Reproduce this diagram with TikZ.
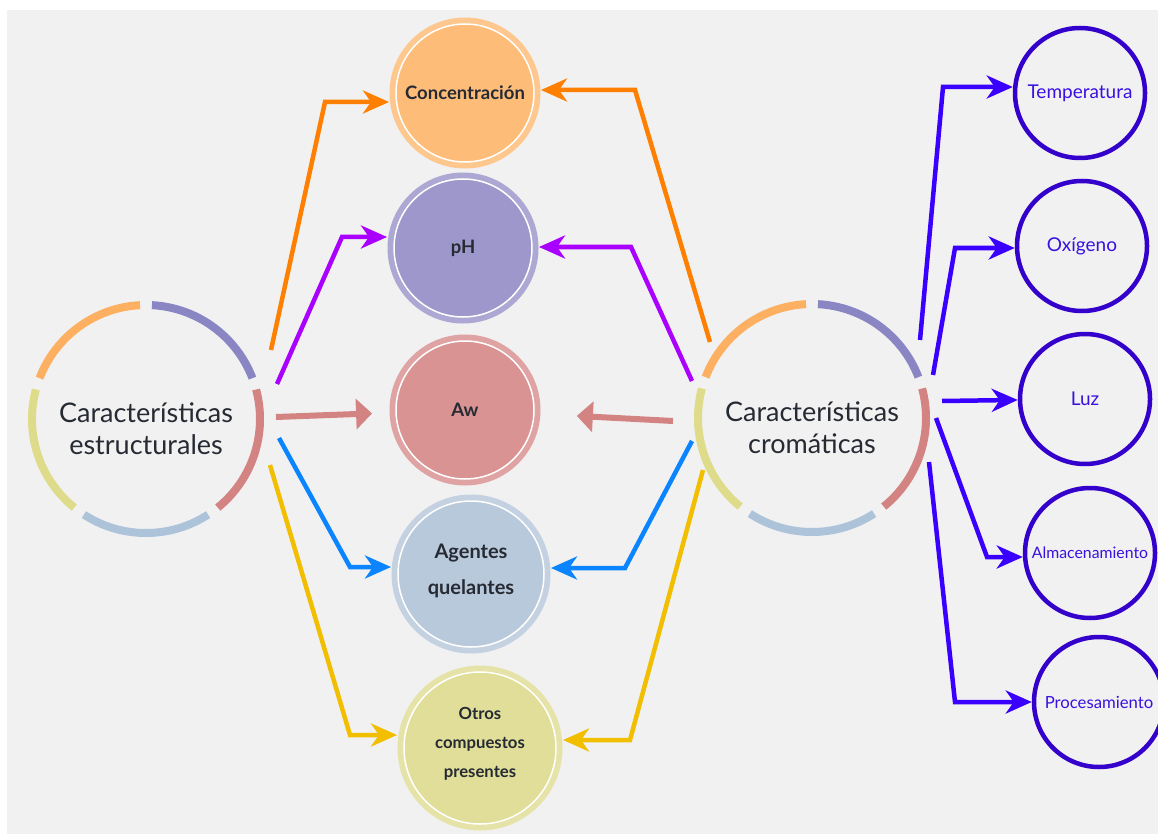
\documentclass[tikz,border=0pt]{standalone}
\usepackage{fontspec}
\setmainfont{Lato}
\usetikzlibrary{arrows.meta, calc, positioning}

\definecolor{panel}{HTML}{F1F1F1}
\definecolor{ink}{HTML}{262A33}
\definecolor{ringorange}{HTML}{FDB062}
\definecolor{ringpurple}{HTML}{8A86C4}
\definecolor{ringred}{HTML}{D48383}
\definecolor{ringblue}{HTML}{ADC3DA}
\definecolor{ringyellow}{HTML}{DEDC8A}
\definecolor{cconc}{HTML}{FDBD79}
\definecolor{cph}{HTML}{9D97CB}
\definecolor{caw}{HTML}{D99393}
\definecolor{cagent}{HTML}{B9C9DC}
\definecolor{cotros}{HTML}{E0DE98}
\definecolor{arrorange}{HTML}{FF8000}
\definecolor{arrpurple}{HTML}{AA00FF}
\definecolor{arrblue}{HTML}{0A84FF}
\definecolor{arryellow}{HTML}{F2BE00}
\definecolor{arrred}{HTML}{D48383}
\definecolor{factorline}{HTML}{3300CC}
\definecolor{factorarr}{HTML}{3A00FF}
\definecolor{factortext}{HTML}{3A10E0}

\tikzset{
  hub/.style={circle, minimum size=228pt, inner sep=0pt},
  hubtext/.style={align=center, text=ink, font=\fontsize{27}{32}\selectfont},
  bubble/.style={circle, fill=#1, draw=white, line width=1.5pt, inner sep=0pt,
    outer sep=7pt, minimum size=138pt, align=center, text=ink,
    font=\bfseries\fontsize{18.5}{29}\selectfont,
    preaction={draw=#1!85!white, line width=13pt}},
  factor/.style={circle, draw=factorline, line width=4.5pt, minimum size=130pt,
    inner sep=0pt, text=factortext, font=\fontsize{19}{22}\selectfont},
  conn/.style={#1, line width=4.5pt, -{Stealth[length=26pt, width=23pt, inset=8pt]}},
  awconn/.style={arrred, line width=6pt, -{Triangle[length=16pt, width=30pt]}}
}

\begin{document}
\begin{tikzpicture}[x=1pt, y=1pt]
  \fill[white] (0,0) rectangle (1158,-834);
  \clip (0,0) rectangle (1158,-834);
  \fill[panel] (7,-10) rectangle (1158,-834);

  % the two main circles
  \node[hub] (struct) at (146,-419) {};
  \node[hub] (crom) at (812,-418) {};
  \node[hubtext] (struct-t) at ([yshift=-10pt]struct) {Características\\estructurales};
  \node[hubtext] (crom-t) at ([yshift=-10pt]crom) {Características\\cromáticas};
  \foreach \n in {struct, crom}
    \foreach \c/\a in {ringpurple/54, ringorange/126, ringyellow/198, ringblue/270, ringred/342}
      \draw[\c, line width=8pt] ($(\n)+(\a-33:114)$) arc[start angle=\a-33, end angle=\a+33, radius=114];

  % middle column
  \node[bubble=cconc] (conc) at (465,-93) {Concentración};
  \node[bubble=cph] (ph) at (463,-248) {pH};
  \node[bubble=caw] (aw) at (465,-410) {Aw};
  \node[bubble=cagent, minimum size=146pt, font=\bfseries\fontsize{20}{36}\selectfont] (agent) at (471,-574) {Agentes\\quelantes\\[-26pt]};
  \node[bubble=cotros, minimum size=152pt, font=\bfseries\fontsize{16.7}{29}\selectfont] (otros) at (480,-748) {Otros\\compuestos\\presentes\\[-17pt]};

  % right column
  \node[factor] (temp) at (1080,-93) {Temperatura};
  \node[factor] (oxi) at (1082,-246) {Oxígeno};
  \node[factor] (luz) at (1085,-399) {Luz};
  \node[factor, font=\fontsize{15.8}{18}\selectfont] (alm) at (1090,-553) {Almacenamiento};
  \node[factor, font=\fontsize{16.7}{18}\selectfont] (proc) at (1099,-702) {Procesamiento};

  % free ends and bends
  \coordinate (s1) at (271,-350); \coordinate (e1) at (325,-102);
  \coordinate (s2) at (277,-384); \coordinate (e2) at (342,-237);
  \coordinate (s3) at (276,-417);
  \coordinate (s4) at (279,-438); \coordinate (e4) at (350,-567);
  \coordinate (s5) at (270,-465); \coordinate (e5) at (350,-735);
  \coordinate (r1) at (710,-342); \coordinate (f1) at (635,-90);
  \coordinate (r2) at (692,-381); \coordinate (f2) at (631,-247);
  \coordinate (r3) at (673,-421);
  \coordinate (r4) at (692,-441); \coordinate (f4) at (625,-568);
  \coordinate (r5) at (703,-470); \coordinate (f5) at (630,-740);
  \coordinate (t1) at (920,-340); \coordinate (g1) at (943,-87);
  \coordinate (t2) at (933,-375); \coordinate (g2) at (955,-248);
  \coordinate (t3) at (942,-401);
  \coordinate (t4) at (936,-418); \coordinate (g4) at (987,-557);
  \coordinate (t5) at (929,-462); \coordinate (g5) at (955,-702);

  \draw[conn=arrorange] (s1) -- (e1) -- (e1 -| conc.west);
  \draw[conn=arrpurple] (s2) -- (e2) -- (e2 -| ph.west);
  \draw[awconn, shorten >=17pt] (s3) -- (aw);
  \draw[conn=arrblue] (s4) -- (e4) -- (e4 -| agent.west);
  \draw[conn=arryellow] (s5) -- (e5) -- (e5 -| otros.west);

  \draw[conn=arrorange] (r1) -- (f1) -- (f1 -| conc.east);
  \draw[conn=arrpurple] (r2) -- (f2) -- (f2 -| ph.east);
  \draw[awconn, shorten >=36pt] (r3) -- (aw);
  \draw[conn=arrblue] (r4) -- (f4) -- (f4 -| agent.east);
  \draw[conn=arryellow] (r5) -- (f5) -- (f5 -| otros.east);

  \draw[conn=factorarr] (t1) -- (g1) -- (g1 -| temp.west);
  \draw[conn=factorarr] (t2) -- (g2) -- (g2 -| oxi.west);
  \draw[conn=factorarr] (t3) -- (luz);
  \draw[conn=factorarr] (t4) -- (g4) -- (g4 -| alm.west);
  \draw[conn=factorarr] (t5) -- (g5) -- (g5 -| proc.west);
\end{tikzpicture}
\end{document}
